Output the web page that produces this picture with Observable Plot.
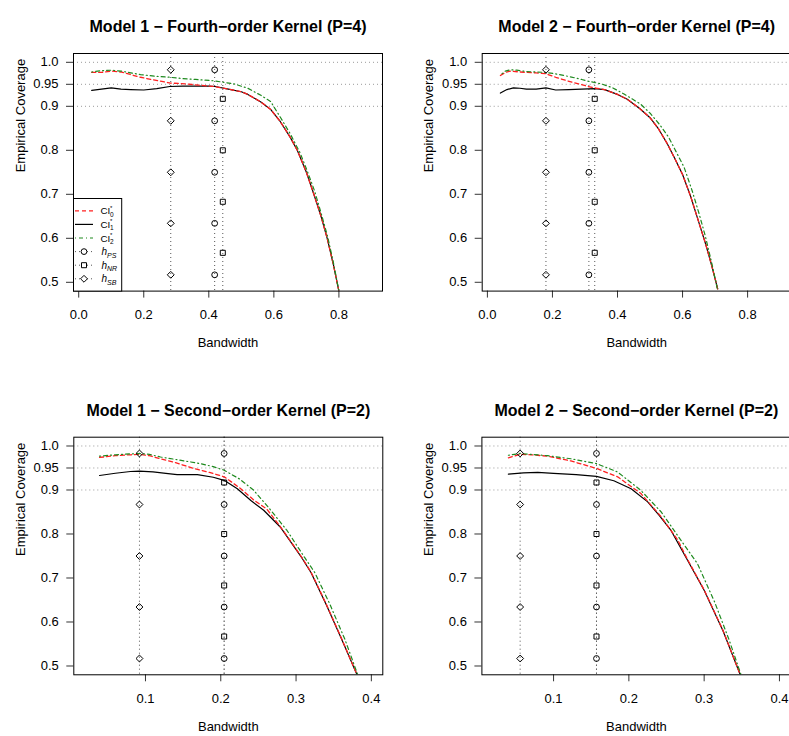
<!DOCTYPE html>
<html><head><meta charset="utf-8">
<script src="https://cdn.jsdelivr.net/npm/d3@7"></script>
<script src="https://cdn.jsdelivr.net/npm/@observablehq/plot@0.6"></script>
<style>
html,body{margin:0;padding:0;background:#fff;overflow:hidden;width:789px;height:736px}
#wrap{position:relative;width:789px;height:736px;overflow:hidden;background:#fff}
#wrap > div{position:absolute}
#wrap svg{max-width:none !important}
</style></head><body><div id="wrap"></div>
<script>
// ---- tick labels ----
const xTicksTop = [0, 0.2, 0.4, 0.6, 0.8];
const xTicksBottom = [0.1, 0.2, 0.3, 0.4];
const yTicks = [0.5, 0.6, 0.7, 0.8, 0.9, 0.95, 1.0];
const yTickLabels = ["0.5", "0.6", "0.7", "0.8", "0.9", "0.95", "1.0"];
const gridY = [0.9, 0.95, 1.0];

// ---- marker levels along the bandwidth-selector lines ----
const levelsRound = [0.983, 0.867, 0.75, 0.634, 0.517];  // h_PS (circle), h_SB (diamond)
const levelsSquare = [0.917, 0.8, 0.683, 0.567];         // h_NR (square)

// ---- selected bandwidths, panel order: M1P4, M2P4, M1P2, M2P2 ----
const hPS = [0.418, 0.312, 0.2045, 0.157];
const hNR = [0.443, 0.330, 0.2045, 0.157];
const hSB = [0.283, 0.180, 0.092, 0.0556];

// ---- coverage curves [bandwidth, coverage] ----
const m1p4CI0 = [[0.04,0.977],[0.07,0.977],[0.10,0.980],[0.13,0.978],[0.16,0.972],[0.19,0.966],[0.23,0.960],[0.28,0.953],[0.33,0.951],[0.37,0.948],[0.415,0.945],[0.46,0.939],[0.50,0.933],[0.52,0.927],[0.56,0.910],[0.59,0.893],[0.62,0.865],[0.65,0.830],[0.672,0.800],[0.70,0.750],[0.723,0.700],[0.745,0.650],[0.764,0.600],[0.783,0.540],[0.80,0.480]];
const m1p4CI1 = [[0.04,0.936],[0.07,0.939],[0.10,0.942],[0.13,0.939],[0.16,0.938],[0.20,0.937],[0.24,0.940],[0.28,0.945],[0.32,0.946],[0.36,0.946],[0.40,0.946],[0.42,0.945],[0.46,0.939],[0.50,0.933],[0.52,0.927],[0.56,0.910],[0.59,0.893],[0.62,0.865],[0.65,0.830],[0.672,0.800],[0.70,0.750],[0.723,0.700],[0.745,0.650],[0.764,0.600],[0.783,0.540],[0.80,0.480]];
const m1p4CI2 = [[0.04,0.978],[0.07,0.981],[0.10,0.982],[0.13,0.980],[0.16,0.976],[0.19,0.972],[0.24,0.968],[0.28,0.966],[0.32,0.963],[0.36,0.961],[0.415,0.958],[0.477,0.951],[0.52,0.941],[0.56,0.925],[0.59,0.911],[0.62,0.875],[0.65,0.838],[0.68,0.795],[0.70,0.758],[0.725,0.708],[0.745,0.658],[0.765,0.605],[0.783,0.545],[0.80,0.480]];

const m2p4CI0 = [[0.04,0.970],[0.055,0.977],[0.07,0.980],[0.10,0.978],[0.12,0.977],[0.15,0.976],[0.18,0.974],[0.21,0.966],[0.245,0.958],[0.28,0.951],[0.31,0.945],[0.335,0.941],[0.36,0.938],[0.40,0.927],[0.43,0.916],[0.47,0.894],[0.50,0.874],[0.525,0.850],[0.553,0.815],[0.575,0.783],[0.60,0.745],[0.625,0.695],[0.645,0.648],[0.671,0.587],[0.69,0.537],[0.708,0.485]];
const m2p4CI1 = [[0.04,0.930],[0.06,0.938],[0.08,0.942],[0.10,0.941],[0.12,0.939],[0.15,0.939],[0.18,0.942],[0.21,0.937],[0.25,0.938],[0.29,0.939],[0.33,0.940],[0.36,0.938],[0.40,0.927],[0.43,0.916],[0.47,0.894],[0.50,0.874],[0.525,0.850],[0.553,0.815],[0.575,0.783],[0.60,0.745],[0.625,0.695],[0.645,0.648],[0.671,0.587],[0.69,0.537],[0.708,0.485]];
const m2p4CI2 = [[0.045,0.974],[0.055,0.980],[0.07,0.983],[0.09,0.982],[0.12,0.979],[0.15,0.978],[0.18,0.977],[0.215,0.973],[0.255,0.967],[0.29,0.961],[0.31,0.957],[0.35,0.951],[0.385,0.942],[0.42,0.928],[0.471,0.905],[0.502,0.883],[0.53,0.858],[0.557,0.830],[0.58,0.797],[0.605,0.761],[0.63,0.707],[0.65,0.658],[0.67,0.605],[0.69,0.543],[0.708,0.482]];

const m1p2CI0 = [[0.039,0.974],[0.06,0.978],[0.08,0.980],[0.092,0.981],[0.105,0.978],[0.12,0.971],[0.14,0.962],[0.164,0.949],[0.185,0.940],[0.2045,0.930],[0.225,0.905],[0.244,0.877],[0.261,0.857],[0.279,0.817],[0.295,0.778],[0.308,0.746],[0.32,0.713],[0.34,0.641],[0.36,0.564],[0.381,0.480]];
const m1p2CI1 = [[0.039,0.933],[0.06,0.938],[0.08,0.942],[0.092,0.943],[0.11,0.941],[0.13,0.937],[0.142,0.935],[0.169,0.935],[0.19,0.929],[0.2045,0.922],[0.222,0.903],[0.24,0.876],[0.257,0.854],[0.279,0.816],[0.295,0.777],[0.308,0.745],[0.32,0.712],[0.34,0.640],[0.36,0.563],[0.381,0.480]];
const m1p2CI2 = [[0.039,0.977],[0.06,0.980],[0.08,0.982],[0.092,0.983],[0.105,0.981],[0.12,0.975],[0.145,0.968],[0.173,0.960],[0.19,0.953],[0.2045,0.945],[0.225,0.925],[0.244,0.899],[0.265,0.857],[0.288,0.808],[0.312,0.745],[0.325,0.712],[0.345,0.640],[0.365,0.560],[0.382,0.480]];

const m2p2CI0 = [[0.040,0.973],[0.0556,0.981],[0.07,0.980],[0.092,0.977],[0.123,0.966],[0.157,0.949],[0.185,0.930],[0.216,0.892],[0.243,0.839],[0.265,0.786],[0.277,0.745],[0.30,0.673],[0.325,0.581],[0.348,0.480]];
const m2p2CI1 = [[0.040,0.936],[0.06,0.939],[0.079,0.940],[0.10,0.938],[0.13,0.935],[0.157,0.931],[0.18,0.921],[0.203,0.903],[0.225,0.873],[0.24,0.843],[0.256,0.808],[0.277,0.743],[0.30,0.672],[0.325,0.580],[0.348,0.480]];
const m2p2CI2 = [[0.040,0.979],[0.0556,0.983],[0.07,0.981],[0.092,0.978],[0.123,0.971],[0.157,0.960],[0.185,0.941],[0.216,0.899],[0.243,0.850],[0.269,0.786],[0.291,0.733],[0.314,0.645],[0.333,0.560],[0.349,0.480]];

const titles = [
  "Model 1 \u2212 Fourth\u2212order Kernel (P=4)",
  "Model 2 \u2212 Fourth\u2212order Kernel (P=4)",
  "Model 1 \u2212 Second\u2212order Kernel (P=2)",
  "Model 2 \u2212 Second\u2212order Kernel (P=2)"
];
const xLabel = "Bandwidth";
const yLabel = "Empirical Coverage";

const FONT = "'Liberation Sans', Arial, Helvetica, sans-serif";
const yLabelMap = new Map(yTicks.map((t, i) => [t, yTickLabels[i]]));
const FRAME_W = 309, FRAME_H = 237.6;

const layouts = [
  {left: 0,   top: 0,   mL: 73,   mT: 53,   mB: 77.4, xDomain: [-0.016, 0.934], xTicks: xTicksTop,    curves: [m1p4CI0, m1p4CI1, m1p4CI2]},
  {left: 394, top: 0,   mL: 87.7, mT: 53,   mB: 77.4, xDomain: [-0.016, 0.934], xTicks: xTicksTop,    curves: [m2p4CI0, m2p4CI1, m2p4CI2]},
  {left: 0,   top: 384, mL: 73.3, mT: 52.7, mB: 61.7, xDomain: [0.0048, 0.4152], xTicks: xTicksBottom, curves: [m1p2CI0, m1p2CI1, m1p2CI2]},
  {left: 394, top: 384, mL: 87.4, mT: 52.7, mB: 61.7, xDomain: [0.0048, 0.4152], xTicks: xTicksBottom, curves: [m2p2CI0, m2p2CI1, m2p2CI2]}
];

const wrap = document.getElementById("wrap");

layouts.forEach((L, i) => {
  const width = L.mL + FRAME_W + 12;
  const height = L.mT + FRAME_H + L.mB;
  const mk = arr => arr.map(([x, y]) => ({x, y}));
  const [c0, c1, c2] = L.curves.map(mk);
  const dotsRound = (h) => levelsRound.map(y => ({x: h, y}));
  const dotsSquare = (h) => levelsSquare.map(y => ({x: h, y}));
  const svg = Plot.plot({
    width, height,
    marginLeft: L.mL, marginRight: 12, marginTop: L.mT, marginBottom: L.mB,
    style: {fontFamily: FONT, fontSize: "13px", color: "black", background: "white", overflow: "visible", maxWidth: "none"},
    x: {domain: L.xDomain},
    y: {domain: [0.48, 1.02]},
    marks: [
      Plot.ruleY(gridY, {stroke: "#9a9a9a", strokeDasharray: "1,3", strokeWidth: 1}),
      Plot.ruleX([hSB[i], hPS[i], hNR[i]], {stroke: "#555", strokeDasharray: "1,3", strokeWidth: 1}),
      Plot.line(c1, {x: "x", y: "y", stroke: "black", strokeWidth: 1.2, clip: true}),
      Plot.line(c0, {x: "x", y: "y", stroke: "#ff2020", strokeWidth: 1.3, strokeDasharray: "4,3", clip: true}),
      Plot.line(c2, {x: "x", y: "y", stroke: "#1f8a1f", strokeWidth: 1.2, strokeDasharray: "1,3,4,3", clip: true}),
      Plot.dot(dotsRound(hSB[i]), {x: "x", y: "y", symbol: "diamond2", r: 3.1, stroke: "black", fill: "none", strokeWidth: 1}),
      Plot.dot(dotsRound(hPS[i]), {x: "x", y: "y", symbol: "circle", r: 2.9, stroke: "black", fill: "none", strokeWidth: 1}),
      Plot.dot(dotsSquare(hNR[i]), {x: "x", y: "y", symbol: "square2", r: 3.2, stroke: "black", fill: "none", strokeWidth: 1}),
      Plot.axisY(yTicks, {tickSize: 7, tickPadding: 8, tickFormat: d => yLabelMap.get(d), label: null, fontSize: 13, stroke: "#333"}),
      Plot.axisX(L.xTicks, {tickSize: 7, tickPadding: 12, tickFormat: d3.format(".1f"), label: null, fontSize: 13, stroke: "#333"}),
      Plot.frame({stroke: "black", strokeWidth: 1}),
      Plot.text([titles[i]], {frameAnchor: "top", dy: -32.5, fontSize: 16, fontWeight: "bold", fill: "black"}),
      Plot.text([xLabel], {frameAnchor: "bottom", dy: 56, fontSize: 13, fill: "black"}),
      Plot.text([yLabel], {frameAnchor: "left", dx: -53, rotate: -90, fontSize: 13, fill: "black"})
    ]
  });
  svg.style.maxWidth = "none";
  const div = document.createElement("div");
  div.style.left = L.left + "px";
  div.style.top = L.top + "px";
  div.style.width = width + "px";
  div.style.height = height + "px";
  div.appendChild(svg);
  wrap.appendChild(div);
});

// ---- legend (panel 1, bottom-left inside frame) ----
const legendItems = [
  {kind: "ci", sub: "0", stroke: "#ff2020", dash: "4,3", w: 1.3},
  {kind: "ci", sub: "1", stroke: "black", dash: null, w: 1.2},
  {kind: "ci", sub: "2", stroke: "#1f8a1f", dash: "1,3,4,3", w: 1.2},
  {kind: "h", sub: "PS", symbol: d3.symbolCircle, size: 26},
  {kind: "h", sub: "NR", symbol: d3.symbolSquare2, size: 32},
  {kind: "h", sub: "SB", symbol: d3.symbolDiamond2, size: 30}
];
const legDiv = document.createElement("div");
legDiv.style.left = "73px";
legDiv.style.top = "197.5px";
wrap.appendChild(legDiv);
const leg = d3.select(legDiv).append("svg").attr("width", 50).attr("height", 95)
  .style("font-family", FONT).style("display", "block");
leg.append("rect").attr("x", 0.5).attr("y", 0.5).attr("width", 48.2).attr("height", 92.6)
  .attr("fill", "white").attr("stroke", "black");
legendItems.forEach((it, k) => {
  const y = 12.8 + 13.6 * k;
  const g = leg.append("g");
  if (it.kind === "ci") {
    const ln = g.append("line").attr("x1", 2).attr("x2", 20).attr("y1", y).attr("y2", y)
      .attr("stroke", it.stroke).attr("stroke-width", it.w);
    if (it.dash) ln.attr("stroke-dasharray", it.dash);
    g.append("text").attr("x", 27.5).attr("y", y + 3.6).attr("font-size", 9.8).text("CI");
    g.append("text").attr("x", 37).attr("y", y - 1.2).attr("font-size", 6).text("*");
    g.append("text").attr("x", 37).attr("y", y + 6).attr("font-size", 6.5).text(it.sub);
  } else {
    g.append("line").attr("x1", 2).attr("x2", 20).attr("y1", y).attr("y2", y)
      .attr("stroke", "#555").attr("stroke-dasharray", "1,3");
    g.append("path").attr("d", d3.symbol(it.symbol, it.size)()).attr("transform", `translate(11,${y})`)
      .attr("fill", "white").attr("stroke", "black");
    g.append("text").attr("x", 28.5).attr("y", y + 3.6).attr("font-size", 10).attr("font-style", "italic").text("h");
    g.append("text").attr("x", 34).attr("y", y + 6).attr("font-size", 7).attr("font-style", "italic").text(it.sub);
  }
});
</script>
</body></html>
